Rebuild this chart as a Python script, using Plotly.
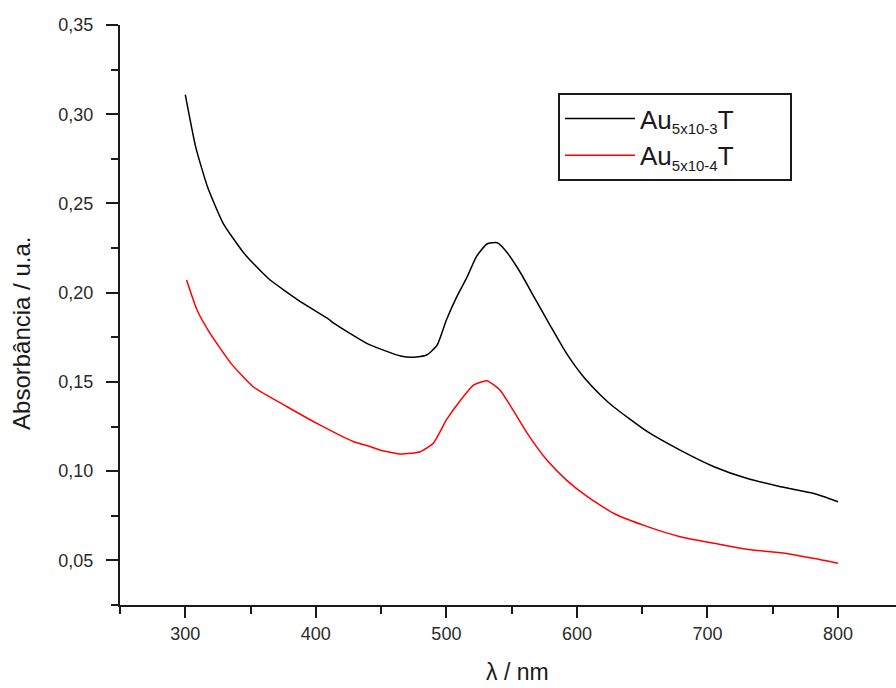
import plotly.graph_objects as go

# Wavelength (nm) and absorbance readings, black series (Au 5x10-3 T)
wl_black = [300, 308, 317, 329, 345, 357, 365, 390, 409, 414, 439, 465, 475, 485, 493,
            500, 508, 516, 523, 531, 539, 546, 557, 567, 580, 592, 605, 618, 628, 654,
            679, 705, 730, 756, 781, 800]
abs_black = [0.311, 0.2816, 0.2594, 0.2389, 0.2221, 0.2127, 0.2071, 0.1941, 0.1856, 0.1828,
             0.1716, 0.1645, 0.1638, 0.1651, 0.1707, 0.1847, 0.1978, 0.2090, 0.2202, 0.2273,
             0.2280, 0.2230, 0.2109, 0.1978, 0.1810, 0.1660, 0.1529, 0.1427, 0.1361, 0.1221,
             0.1118, 0.1025, 0.0960, 0.0913, 0.0876, 0.0829]

# Red series (Au 5x10-4 T)
wl_red = [301, 309, 319, 335, 352, 378, 403, 429, 442, 449, 465, 480, 490, 500, 511, 521,
          531, 541, 551, 562, 577, 592, 608, 628, 654, 679, 705, 730, 756, 781, 800]
abs_red = [0.2071, 0.1903, 0.1772, 0.1604, 0.1473, 0.1361, 0.1259, 0.1165, 0.1137, 0.1119,
           0.1096, 0.1109, 0.1156, 0.1287, 0.1399, 0.1483, 0.1507, 0.1455, 0.1343, 0.1212,
           0.1062, 0.0950, 0.0857, 0.0764, 0.0689, 0.0633, 0.0596, 0.0562, 0.0543, 0.0512,
           0.0484]

PAD = "\u00a0" * 7
name_black = "Au<sub><span style='font-size:15px'>5x10-3</span></sub>T" + PAD
name_red = "Au<sub><span style='font-size:15px'>5x10-4</span></sub>T" + PAD
y_title = "Absorbância / u.a."
x_title = "λ / nm"

FONT = "Arial, Liberation Sans, sans-serif"
AX = "#1a1a1a"

fig = go.Figure()
fig.add_trace(go.Scatter(x=wl_black, y=abs_black, mode="lines", name=name_black,
                         line=dict(color="black", width=1.5, shape="spline", smoothing=0.5)))
fig.add_trace(go.Scatter(x=wl_red, y=abs_red, mode="lines", name=name_red,
                         line=dict(color="#ff0000", width=1.5, shape="spline", smoothing=0.5)))

fig.update_layout(
    width=896, height=688,
    margin=dict(l=120, r=0, t=25, b=83, autoexpand=False),
    paper_bgcolor="white", plot_bgcolor="white",
    separators=",.",
    font=dict(family=FONT, color=AX),
    showlegend=True,
    legend=dict(
        x=0.5644, y=0.8828, xanchor="left", yanchor="top",
        bordercolor=AX, borderwidth=2, bgcolor="white",
        font=dict(size=26, family=FONT, color=AX),
        itemwidth=70, tracegroupgap=0,
    ),
    xaxis=dict(
        range=[250, 844.4], tick0=300, dtick=100, automargin=False,
        showgrid=False, zeroline=False,
        showline=True, linecolor=AX, linewidth=2,
        ticks="outside", ticklen=11, tickwidth=2, tickcolor=AX,
        tickfont=dict(size=18, family=FONT, color="#2a2a2a"),
        minor=dict(ticks="outside", ticklen=7, tickwidth=2, tickcolor=AX, dtick=50, tick0=250, showgrid=False),
    ),
    yaxis=dict(
        range=[0.025, 0.35], tick0=0.05, dtick=0.05, tickformat=".2f", automargin=False,
        showgrid=False, zeroline=False,
        showline=True, linecolor=AX, linewidth=2,
        ticks="outside", ticklen=12, tickwidth=2, tickcolor=AX,
        ticklabelstandoff=9,
        tickfont=dict(size=18, family=FONT, color="#2a2a2a"),
        minor=dict(ticks="outside", ticklen=7, tickwidth=2, tickcolor=AX, dtick=0.025, tick0=0.025, showgrid=False),
    ),
    annotations=[
        dict(text=y_title, textangle=-90, showarrow=False,
             xref="paper", yref="paper", x=-0.1263, y=0.469,
             xanchor="center", yanchor="middle",
             font=dict(size=24, family=FONT, color=AX)),
        dict(text=x_title, showarrow=False,
             xref="paper", yref="paper", x=0.5116, y=-0.089,
             xanchor="center", yanchor="top",
             font=dict(size=23, family=FONT, color=AX)),
    ],
)

fig.write_html("out.html")
